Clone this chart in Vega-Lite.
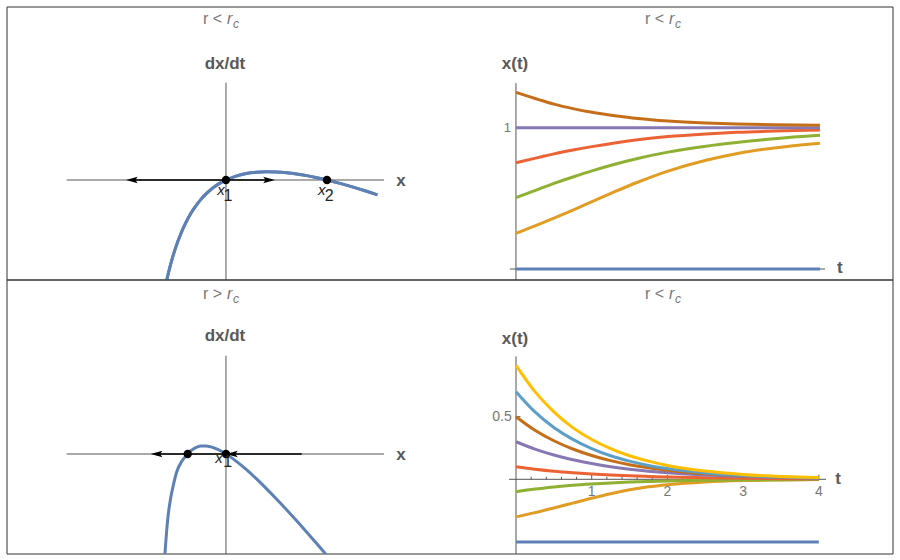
{
"$schema": "https://vega.github.io/schema/vega-lite/v6.json",
"background": "white",
"padding": {"left": 6, "top": 6, "right": 0, "bottom": 0},
"config": {"view": {"stroke": null}, "font": "Liberation Sans", "axis": {"disable": true}, "concat": {"spacing": 0}},
"datasets": {
"tl_curve": [{"x":-0.61,"dxdt":-7.42},{"x":-0.584,"dxdt":-6.6},{"x":-0.55,"dxdt":-5.68},{"x":-0.5,"dxdt":-4.54},{"x":-0.45,"dxdt":-3.63},{"x":-0.4,"dxdt":-2.88},{"x":-0.35,"dxdt":-2.25},{"x":-0.3,"dxdt":-1.74},{"x":-0.25,"dxdt":-1.31},{"x":-0.2,"dxdt":-0.944},{"x":-0.15,"dxdt":-0.641},{"x":-0.1,"dxdt":-0.388},{"x":-0.05,"dxdt":-0.176},{"x":0,"dxdt":0},{"x":0.1,"dxdt":0.262},{"x":0.2,"dxdt":0.429},{"x":0.3,"dxdt":0.522},{"x":0.4,"dxdt":0.555},{"x":0.5,"dxdt":0.541},{"x":0.6,"dxdt":0.488},{"x":0.7,"dxdt":0.403},{"x":0.8,"dxdt":0.29},{"x":0.9,"dxdt":0.155},{"x":1.0,"dxdt":0},{"x":1.1,"dxdt":-0.172},{"x":1.2,"dxdt":-0.359},{"x":1.3,"dxdt":-0.558},{"x":1.4,"dxdt":-0.768},{"x":1.5,"dxdt":-0.989}],
"tl_pts": [{"x":0,"dxdt":0},{"x":1,"dxdt":0}],
"bl_curve": [{"x":-0.608,"dxdt":-7.0},{"x":-0.601,"dxdt":-6.35},{"x":-0.587,"dxdt":-5.1},{"x":-0.571,"dxdt":-4.0},{"x":-0.548,"dxdt":-2.95},{"x":-0.522,"dxdt":-2.1},{"x":-0.488,"dxdt":-1.2},{"x":-0.439,"dxdt":-0.5},{"x":-0.379,"dxdt":0},{"x":-0.35,"dxdt":0.206},{"x":-0.3,"dxdt":0.43},{"x":-0.25,"dxdt":0.531},{"x":-0.2,"dxdt":0.538},{"x":-0.15,"dxdt":0.476},{"x":-0.1,"dxdt":0.358},{"x":-0.05,"dxdt":0.197},{"x":0,"dxdt":0},{"x":0.05,"dxdt":-0.226},{"x":0.1,"dxdt":-0.475},{"x":0.2,"dxdt":-1.032},{"x":0.3,"dxdt":-1.647},{"x":0.4,"dxdt":-2.306},{"x":0.5,"dxdt":-2.999},{"x":0.6,"dxdt":-3.718},{"x":0.7,"dxdt":-4.458},{"x":0.8,"dxdt":-5.215},{"x":0.9,"dxdt":-5.985},{"x":1.0,"dxdt":-6.768}],
"bl_pts": [{"x":-0.379,"dxdt":0},{"x":0,"dxdt":0}],
"tr_lines": [
{"s":"s1","t":0,"v":0},{"s":"s1","t":4,"v":0},
{"s":"s2","t":0,"v":0.252},{"s":"s2","t":0.3,"v":0.316},{"s":"s2","t":0.5,"v":0.36},{"s":"s2","t":0.75,"v":0.417},{"s":"s2","t":1,"v":0.476},{"s":"s2","t":1.3,"v":0.547},{"s":"s2","t":1.6,"v":0.614},{"s":"s2","t":2,"v":0.693},{"s":"s2","t":2.5,"v":0.77},{"s":"s2","t":2.9,"v":0.816},{"s":"s2","t":3.4,"v":0.857},{"s":"s2","t":4,"v":0.89},
{"s":"s3","t":0,"v":0.505},{"s":"s3","t":0.3,"v":0.565},{"s":"s3","t":0.5,"v":0.606},{"s":"s3","t":0.75,"v":0.651},{"s":"s3","t":1,"v":0.694},{"s":"s3","t":1.3,"v":0.741},{"s":"s3","t":1.6,"v":0.782},{"s":"s3","t":2,"v":0.827},{"s":"s3","t":2.5,"v":0.869},{"s":"s3","t":2.9,"v":0.895},{"s":"s3","t":3.4,"v":0.922},{"s":"s3","t":4,"v":0.946},
{"s":"s4","t":0,"v":0.752},{"s":"s4","t":0.3,"v":0.79},{"s":"s4","t":0.5,"v":0.815},{"s":"s4","t":0.75,"v":0.842},{"s":"s4","t":1,"v":0.866},{"s":"s4","t":1.3,"v":0.892},{"s":"s4","t":1.6,"v":0.914},{"s":"s4","t":2,"v":0.937},{"s":"s4","t":2.5,"v":0.956},{"s":"s4","t":2.9,"v":0.967},{"s":"s4","t":3.4,"v":0.976},{"s":"s4","t":4,"v":0.983},
{"s":"s5","t":0,"v":1},{"s":"s5","t":4,"v":1},
{"s":"s6","t":0,"v":1.25},{"s":"s6","t":0.3,"v":1.199},{"s":"s6","t":0.5,"v":1.167},{"s":"s6","t":0.75,"v":1.135},{"s":"s6","t":1,"v":1.109},{"s":"s6","t":1.3,"v":1.085},{"s":"s6","t":1.6,"v":1.065},{"s":"s6","t":2,"v":1.047},{"s":"s6","t":2.5,"v":1.033},{"s":"s6","t":2.9,"v":1.026},{"s":"s6","t":3.4,"v":1.021},{"s":"s6","t":4,"v":1.017}
],
"br_lines": [
{"s":"s1","t":0,"v":-0.5},{"s":"s1","t":4,"v":-0.5},
{"s":"s2","t":0,"v":-0.3},{"s":"s2","t":0.25,"v":-0.266},{"s":"s2","t":0.5,"v":-0.229},{"s":"s2","t":0.75,"v":-0.19},{"s":"s2","t":1,"v":-0.151},{"s":"s2","t":1.25,"v":-0.115},{"s":"s2","t":1.5,"v":-0.084},{"s":"s2","t":1.75,"v":-0.06},{"s":"s2","t":2,"v":-0.043},{"s":"s2","t":2.5,"v":-0.021},{"s":"s2","t":3,"v":-0.01},{"s":"s2","t":3.5,"v":-0.005},{"s":"s2","t":4,"v":-0.002},
{"s":"s3","t":0,"v":-0.1},{"s":"s3","t":0.25,"v":-0.078},{"s":"s3","t":0.5,"v":-0.061},{"s":"s3","t":0.75,"v":-0.047},{"s":"s3","t":1,"v":-0.037},{"s":"s3","t":1.25,"v":-0.029},{"s":"s3","t":1.5,"v":-0.022},{"s":"s3","t":1.75,"v":-0.017},{"s":"s3","t":2,"v":-0.014},{"s":"s3","t":2.5,"v":-0.008},{"s":"s3","t":3,"v":-0.005},{"s":"s3","t":3.5,"v":-0.003},{"s":"s3","t":4,"v":-0.002},
{"s":"s4","t":0,"v":0.1},{"s":"s4","t":0.25,"v":0.081},{"s":"s4","t":0.5,"v":0.065},{"s":"s4","t":0.75,"v":0.053},{"s":"s4","t":1,"v":0.043},{"s":"s4","t":1.25,"v":0.035},{"s":"s4","t":1.5,"v":0.028},{"s":"s4","t":1.75,"v":0.023},{"s":"s4","t":2,"v":0.018},{"s":"s4","t":2.5,"v":0.012},{"s":"s4","t":3,"v":0.008},{"s":"s4","t":3.5,"v":0.005},{"s":"s4","t":4,"v":0.003},
{"s":"s5","t":0,"v":0.3},{"s":"s5","t":0.25,"v":0.241},{"s":"s5","t":0.5,"v":0.194},{"s":"s5","t":0.75,"v":0.156},{"s":"s5","t":1,"v":0.126},{"s":"s5","t":1.25,"v":0.101},{"s":"s5","t":1.5,"v":0.081},{"s":"s5","t":1.75,"v":0.065},{"s":"s5","t":2,"v":0.053},{"s":"s5","t":2.5,"v":0.034},{"s":"s5","t":3,"v":0.022},{"s":"s5","t":3.5,"v":0.014},{"s":"s5","t":4,"v":0.009},
{"s":"s6","t":0,"v":0.5},{"s":"s6","t":0.25,"v":0.392},{"s":"s6","t":0.5,"v":0.308},{"s":"s6","t":0.75,"v":0.242},{"s":"s6","t":1,"v":0.19},{"s":"s6","t":1.25,"v":0.149},{"s":"s6","t":1.5,"v":0.117},{"s":"s6","t":1.75,"v":0.092},{"s":"s6","t":2,"v":0.072},{"s":"s6","t":2.5,"v":0.044},{"s":"s6","t":3,"v":0.027},{"s":"s6","t":3.5,"v":0.017},{"s":"s6","t":4,"v":0.01},
{"s":"s7","t":0,"v":0.7},{"s":"s7","t":0.25,"v":0.538},{"s":"s7","t":0.5,"v":0.414},{"s":"s7","t":0.75,"v":0.319},{"s":"s7","t":1,"v":0.245},{"s":"s7","t":1.25,"v":0.188},{"s":"s7","t":1.5,"v":0.145},{"s":"s7","t":1.75,"v":0.111},{"s":"s7","t":2,"v":0.086},{"s":"s7","t":2.5,"v":0.051},{"s":"s7","t":3,"v":0.03},{"s":"s7","t":3.5,"v":0.018},{"s":"s7","t":4,"v":0.011},
{"s":"s8","t":0,"v":0.91},{"s":"s8","t":0.25,"v":0.7},{"s":"s8","t":0.5,"v":0.539},{"s":"s8","t":0.75,"v":0.413},{"s":"s8","t":1,"v":0.318},{"s":"s8","t":1.25,"v":0.245},{"s":"s8","t":1.5,"v":0.188},{"s":"s8","t":1.75,"v":0.145},{"s":"s8","t":2,"v":0.111},{"s":"s8","t":2.5,"v":0.066},{"s":"s8","t":3,"v":0.039},{"s":"s8","t":3.5,"v":0.023},{"s":"s8","t":4,"v":0.014}
],
"br_minor": [{"t":0.2},{"t":0.4},{"t":0.6},{"t":0.8},{"t":1.2},{"t":1.4},{"t":1.6},{"t":1.8},{"t":2.2},{"t":2.4},{"t":2.6},{"t":2.8},{"t":3.2},{"t":3.4},{"t":3.6},{"t":3.8}],
"br_major": [{"t":1,"label":"1"},{"t":2,"label":"2"},{"t":3,"label":"3"},{"t":4,"label":"4"}]
},
"columns": 2,
"spacing": 0,
"bounds": "flush",
"concat": [
{
"width": 443, "height": 273,
"data": {"values": [{}]},
"layer": [
{"data": {"name": "tl_curve"}, "mark": {"type": "line", "color": "#5E81B5", "strokeWidth": 3, "clip": true, "interpolate": "monotone"}, "encoding": {"x": {"field": "x", "type": "quantitative", "scale": {"domain": [-2.168, 2.218], "nice": false, "zero": false}}, "y": {"field": "dxdt", "type": "quantitative", "scale": {"domain": [-6.667, 11.533], "nice": false, "zero": false}}}},
{"mark": {"type": "rule", "color": "#333", "strokeWidth": 1}, "encoding": {"x": {"datum": -2.168, "type": "quantitative"}, "x2": {"datum": 2.218}, "y": {"datum": 11.533, "type": "quantitative"}}},
{"mark": {"type": "rule", "color": "#333", "strokeWidth": 1}, "encoding": {"x": {"datum": -2.168, "type": "quantitative"}, "x2": {"datum": 2.218}, "y": {"datum": -6.667, "type": "quantitative"}}},
{"mark": {"type": "rule", "color": "#333", "strokeWidth": 1}, "encoding": {"x": {"datum": -2.168, "type": "quantitative"}, "y": {"datum": -6.667, "type": "quantitative"}, "y2": {"datum": 11.533}}},
{"mark": {"type": "rule", "color": "#555", "strokeWidth": 1}, "encoding": {"x": {"datum": -1.577, "type": "quantitative"}, "x2": {"datum": 1.564}, "y": {"datum": 0, "type": "quantitative"}}},
{"mark": {"type": "rule", "color": "#555", "strokeWidth": 1}, "encoding": {"x": {"datum": 0, "type": "quantitative"}, "y": {"datum": -6.667, "type": "quantitative"}, "y2": {"datum": 6.487}}},
{"data": {"name": "tl_curve"}, "mark": {"type": "line", "color": "#5E81B5", "strokeWidth": 3, "clip": true, "interpolate": "monotone"}, "encoding": {"x": {"field": "x", "type": "quantitative"}, "y": {"field": "dxdt", "type": "quantitative"}}},
{"mark": {"type": "rule", "color": "black", "strokeWidth": 1.5}, "encoding": {"x": {"datum": -0.95, "type": "quantitative"}, "x2": {"datum": 0.45}, "y": {"datum": 0, "type": "quantitative"}}},
{"mark": {"type": "point", "shape": "M0,0L2,-0.55L1.6,0L2,0.55Z", "size": 137, "filled": true, "color": "black", "opacity": 1, "strokeWidth": 0}, "encoding": {"x": {"datum": -0.99, "type": "quantitative"}, "y": {"datum": 0, "type": "quantitative"}}},
{"mark": {"type": "point", "shape": "M0,0L-2,-0.55L-1.6,0L-2,0.55Z", "size": 137, "filled": true, "color": "black", "opacity": 1, "strokeWidth": 0}, "encoding": {"x": {"datum": 0.485, "type": "quantitative"}, "y": {"datum": 0, "type": "quantitative"}}},
{"data": {"name": "tl_pts"}, "mark": {"type": "circle", "size": 70, "color": "black", "opacity": 1}, "encoding": {"x": {"field": "x", "type": "quantitative"}, "y": {"field": "dxdt", "type": "quantitative"}}},
{"mark": {"type": "text", "text": "x", "fontStyle": "italic", "fontSize": 15, "color": "#222", "align": "center", "baseline": "middle"}, "encoding": {"x": {"datum": -0.0495, "type": "quantitative"}, "y": {"datum": -0.667, "type": "quantitative"}}},
{"mark": {"type": "text", "text": "1", "fontSize": 16, "color": "#222", "align": "center", "baseline": "middle"}, "encoding": {"x": {"datum": 0.0198, "type": "quantitative"}, "y": {"datum": -1.067, "type": "quantitative"}}},
{"mark": {"type": "text", "text": "x", "fontStyle": "italic", "fontSize": 15, "color": "#222", "align": "center", "baseline": "middle"}, "encoding": {"x": {"datum": 0.9475, "type": "quantitative"}, "y": {"datum": -0.667, "type": "quantitative"}}},
{"mark": {"type": "text", "text": "2", "fontSize": 16, "color": "#222", "align": "center", "baseline": "middle"}, "encoding": {"x": {"datum": 1.0228, "type": "quantitative"}, "y": {"datum": -1.067, "type": "quantitative"}}},
{"mark": {"type": "text", "text": "dx/dt", "fontSize": 17, "fontWeight": "bold", "color": "#595959", "align": "center", "baseline": "middle"}, "encoding": {"x": {"datum": -0.01, "type": "quantitative"}, "y": {"datum": 7.753, "type": "quantitative"}}},
{"mark": {"type": "text", "text": "x", "fontSize": 17, "fontWeight": "bold", "color": "#595959", "align": "center", "baseline": "middle"}, "encoding": {"x": {"datum": 1.733, "type": "quantitative"}, "y": {"datum": -0.067, "type": "quantitative"}}},
{"mark": {"type": "text", "text": "r <", "fontSize": 16, "color": "#777", "align": "left", "baseline": "middle", "dx": -19}, "encoding": {"x": {"datum": -0.0396, "type": "quantitative"}, "y": {"datum": 10.733, "type": "quantitative"}}},
{"mark": {"type": "text", "text": "r", "fontStyle": "italic", "fontSize": 16, "color": "#777", "align": "left", "baseline": "middle", "dx": 5}, "encoding": {"x": {"datum": -0.0396, "type": "quantitative"}, "y": {"datum": 10.733, "type": "quantitative"}}},
{"mark": {"type": "text", "text": "c", "fontStyle": "italic", "fontSize": 12, "color": "#777", "align": "left", "baseline": "middle", "dx": 11, "dy": 5}, "encoding": {"x": {"datum": -0.0396, "type": "quantitative"}, "y": {"datum": 10.733, "type": "quantitative"}}}
]
},
{
"width": 443, "height": 273,
"data": {"values": [{}]},
"layer": [
{"mark": {"type": "rule", "color": "#333", "strokeWidth": 1}, "encoding": {"x": {"datum": -0.868, "type": "quantitative", "scale": {"domain": [-0.868, 4.961], "nice": false, "zero": false}}, "x2": {"datum": 4.961}, "y": {"datum": 1.8542, "type": "quantitative", "scale": {"domain": [-0.0778, 1.8542], "nice": false, "zero": false}}}},
{"mark": {"type": "rule", "color": "#333", "strokeWidth": 1}, "encoding": {"x": {"datum": -0.868, "type": "quantitative"}, "x2": {"datum": 4.961}, "y": {"datum": -0.0778, "type": "quantitative"}}},
{"mark": {"type": "rule", "color": "#333", "strokeWidth": 1}, "encoding": {"x": {"datum": 4.961, "type": "quantitative"}, "y": {"datum": -0.0778, "type": "quantitative"}, "y2": {"datum": 1.8542}}},
{"mark": {"type": "rule", "color": "#555", "strokeWidth": 1}, "encoding": {"x": {"datum": -0.079, "type": "quantitative"}, "x2": {"datum": 4.066}, "y": {"datum": 0, "type": "quantitative"}}},
{"mark": {"type": "rule", "color": "#555", "strokeWidth": 1}, "encoding": {"x": {"datum": 0, "type": "quantitative"}, "y": {"datum": -0.0778, "type": "quantitative"}, "y2": {"datum": 1.316}}},
{"data": {"name": "tr_lines"}, "mark": {"type": "line", "strokeWidth": 3, "clip": true, "interpolate": "monotone"}, "encoding": {"x": {"field": "t", "type": "quantitative"}, "y": {"field": "v", "type": "quantitative"}, "color": {"field": "s", "type": "nominal", "scale": {"domain": ["s1","s2","s3","s4","s5","s6","s7","s8"], "range": ["#5E81B5","#E19C24","#8FB032","#EB6235","#8778B3","#C56E1A","#5D9EC7","#FFBF00"]}, "legend": null}}},
{"mark": {"type": "text", "text": "1", "fontSize": 13, "color": "#777", "align": "right", "baseline": "middle"}, "encoding": {"x": {"datum": -0.0658, "type": "quantitative"}, "y": {"datum": 1, "type": "quantitative"}}},
{"mark": {"type": "text", "text": "x(t)", "fontSize": 17, "fontWeight": "bold", "color": "#595959", "align": "center", "baseline": "middle"}, "encoding": {"x": {"datum": -0.013, "type": "quantitative"}, "y": {"datum": 1.449, "type": "quantitative"}}},
{"mark": {"type": "text", "text": "t", "fontSize": 17, "fontWeight": "bold", "color": "#595959", "align": "center", "baseline": "middle"}, "encoding": {"x": {"datum": 4.263, "type": "quantitative"}, "y": {"datum": 0.0092, "type": "quantitative"}}},
{"mark": {"type": "text", "text": "r <", "fontSize": 16, "color": "#777", "align": "left", "baseline": "middle", "dx": -19}, "encoding": {"x": {"datum": 1.947, "type": "quantitative"}, "y": {"datum": 1.769, "type": "quantitative"}}},
{"mark": {"type": "text", "text": "r", "fontStyle": "italic", "fontSize": 16, "color": "#777", "align": "left", "baseline": "middle", "dx": 5}, "encoding": {"x": {"datum": 1.947, "type": "quantitative"}, "y": {"datum": 1.769, "type": "quantitative"}}},
{"mark": {"type": "text", "text": "c", "fontStyle": "italic", "fontSize": 12, "color": "#777", "align": "left", "baseline": "middle", "dx": 11, "dy": 5}, "encoding": {"x": {"datum": 1.947, "type": "quantitative"}, "y": {"datum": 1.769, "type": "quantitative"}}}
]
},
{
"width": 443, "height": 274,
"data": {"values": [{}]},
"layer": [
{"mark": {"type": "rule", "color": "#333", "strokeWidth": 1}, "encoding": {"x": {"datum": -2.168, "type": "quantitative", "scale": {"domain": [-2.168, 2.218], "nice": false, "zero": false}}, "x2": {"datum": 2.218}, "y": {"datum": 11.6, "type": "quantitative", "scale": {"domain": [-6.667, 11.6], "nice": false, "zero": false}}}},
{"mark": {"type": "rule", "color": "#333", "strokeWidth": 1}, "encoding": {"x": {"datum": -2.168, "type": "quantitative"}, "x2": {"datum": 2.218}, "y": {"datum": -6.667, "type": "quantitative"}}},
{"mark": {"type": "rule", "color": "#333", "strokeWidth": 1}, "encoding": {"x": {"datum": -2.168, "type": "quantitative"}, "y": {"datum": -6.667, "type": "quantitative"}, "y2": {"datum": 11.6}}},
{"mark": {"type": "rule", "color": "#555", "strokeWidth": 1}, "encoding": {"x": {"datum": -1.577, "type": "quantitative"}, "x2": {"datum": 1.564}, "y": {"datum": 0, "type": "quantitative"}}},
{"mark": {"type": "rule", "color": "#555", "strokeWidth": 1}, "encoding": {"x": {"datum": 0, "type": "quantitative"}, "y": {"datum": -6.667, "type": "quantitative"}, "y2": {"datum": 6.553}}},
{"data": {"name": "bl_curve"}, "mark": {"type": "line", "color": "#5E81B5", "strokeWidth": 3, "clip": true, "interpolate": "monotone"}, "encoding": {"x": {"field": "x", "type": "quantitative"}, "y": {"field": "dxdt", "type": "quantitative"}}},
{"mark": {"type": "rule", "color": "black", "strokeWidth": 1.5}, "encoding": {"x": {"datum": -0.71, "type": "quantitative"}, "x2": {"datum": 0.75}, "y": {"datum": 0, "type": "quantitative"}}},
{"mark": {"type": "point", "shape": "M0,0L2,-0.55L1.6,0L2,0.55Z", "size": 137, "filled": true, "color": "black", "opacity": 1, "strokeWidth": 0}, "encoding": {"x": {"datum": -0.745, "type": "quantitative"}, "y": {"datum": 0, "type": "quantitative"}}},
{"mark": {"type": "point", "shape": "M0,0L2,-0.55L1.6,0L2,0.55Z", "size": 137, "filled": true, "color": "black", "opacity": 1, "strokeWidth": 0}, "encoding": {"x": {"datum": 0.0, "type": "quantitative"}, "y": {"datum": 0, "type": "quantitative"}}},
{"data": {"name": "bl_pts"}, "mark": {"type": "circle", "size": 70, "color": "black", "opacity": 1}, "encoding": {"x": {"field": "x", "type": "quantitative"}, "y": {"field": "dxdt", "type": "quantitative"}}},
{"mark": {"type": "text", "text": "x", "fontStyle": "italic", "fontSize": 15, "color": "#222", "align": "center", "baseline": "middle"}, "encoding": {"x": {"datum": -0.069, "type": "quantitative"}, "y": {"datum": -0.267, "type": "quantitative"}}},
{"mark": {"type": "text", "text": "1", "fontSize": 16, "color": "#222", "align": "center", "baseline": "middle"}, "encoding": {"x": {"datum": 0.0168, "type": "quantitative"}, "y": {"datum": -0.533, "type": "quantitative"}}},
{"mark": {"type": "text", "text": "dx/dt", "fontSize": 17, "fontWeight": "bold", "color": "#595959", "align": "center", "baseline": "middle"}, "encoding": {"x": {"datum": -0.01, "type": "quantitative"}, "y": {"datum": 7.887, "type": "quantitative"}}},
{"mark": {"type": "text", "text": "x", "fontSize": 17, "fontWeight": "bold", "color": "#595959", "align": "center", "baseline": "middle"}, "encoding": {"x": {"datum": 1.733, "type": "quantitative"}, "y": {"datum": -0.047, "type": "quantitative"}}},
{"mark": {"type": "text", "text": "r >", "fontSize": 16, "color": "#777", "align": "left", "baseline": "middle", "dx": -19}, "encoding": {"x": {"datum": -0.0396, "type": "quantitative"}, "y": {"datum": 10.667, "type": "quantitative"}}},
{"mark": {"type": "text", "text": "r", "fontStyle": "italic", "fontSize": 16, "color": "#777", "align": "left", "baseline": "middle", "dx": 5}, "encoding": {"x": {"datum": -0.0396, "type": "quantitative"}, "y": {"datum": 10.667, "type": "quantitative"}}},
{"mark": {"type": "text", "text": "c", "fontStyle": "italic", "fontSize": 12, "color": "#777", "align": "left", "baseline": "middle", "dx": 11, "dy": 5}, "encoding": {"x": {"datum": -0.0396, "type": "quantitative"}, "y": {"datum": 10.667, "type": "quantitative"}}}
]
},
{
"width": 443, "height": 274,
"data": {"values": [{}]},
"layer": [
{"mark": {"type": "rule", "color": "#333", "strokeWidth": 1}, "encoding": {"x": {"datum": -0.872, "type": "quantitative", "scale": {"domain": [-0.872, 4.98], "nice": false, "zero": false}}, "x2": {"datum": 4.98}, "y": {"datum": 1.5919, "type": "quantitative", "scale": {"domain": [-0.5966, 1.5919], "nice": false, "zero": false}}}},
{"mark": {"type": "rule", "color": "#333", "strokeWidth": 1}, "encoding": {"x": {"datum": -0.872, "type": "quantitative"}, "x2": {"datum": 4.98}, "y": {"datum": -0.5966, "type": "quantitative"}}},
{"mark": {"type": "rule", "color": "#333", "strokeWidth": 1}, "encoding": {"x": {"datum": 4.98, "type": "quantitative"}, "y": {"datum": -0.5966, "type": "quantitative"}, "y2": {"datum": 1.5919}}},
{"mark": {"type": "rule", "color": "#555", "strokeWidth": 1}, "encoding": {"x": {"datum": -0.092, "type": "quantitative"}, "x2": {"datum": 4.095}, "y": {"datum": 0, "type": "quantitative"}}},
{"mark": {"type": "rule", "color": "#555", "strokeWidth": 1}, "encoding": {"x": {"datum": 0, "type": "quantitative"}, "y": {"datum": -0.5966, "type": "quantitative"}, "y2": {"datum": 0.982}}},
{"data": {"name": "br_minor"}, "mark": {"type": "rule", "color": "#555", "strokeWidth": 1}, "encoding": {"x": {"field": "t", "type": "quantitative"}, "y": {"datum": 0, "type": "quantitative"}, "y2": {"datum": 0.02}}},
{"data": {"name": "br_major"}, "mark": {"type": "rule", "color": "#555", "strokeWidth": 1}, "encoding": {"x": {"field": "t", "type": "quantitative"}, "y": {"datum": 0, "type": "quantitative"}, "y2": {"datum": 0.036}}},
{"mark": {"type": "rule", "color": "#555", "strokeWidth": 1}, "encoding": {"x": {"datum": 0, "type": "quantitative"}, "x2": {"datum": 0.059}, "y": {"datum": 0.5, "type": "quantitative"}}},
{"data": {"name": "br_lines"}, "mark": {"type": "line", "strokeWidth": 3, "clip": true, "interpolate": "monotone"}, "encoding": {"x": {"field": "t", "type": "quantitative"}, "y": {"field": "v", "type": "quantitative"}, "color": {"field": "s", "type": "nominal", "scale": {"domain": ["s1","s2","s3","s4","s5","s6","s7","s8"], "range": ["#5E81B5","#E19C24","#8FB032","#EB6235","#8778B3","#C56E1A","#5D9EC7","#FFBF00"]}, "legend": null}}},
{"data": {"name": "br_major"}, "mark": {"type": "text", "fontSize": 14, "color": "#777", "align": "center", "baseline": "middle"}, "encoding": {"x": {"field": "t", "type": "quantitative"}, "y": {"datum": -0.1038, "type": "quantitative"}, "text": {"field": "label", "type": "nominal"}}},
{"mark": {"type": "text", "text": "0.5", "fontSize": 14, "color": "#777", "align": "right", "baseline": "middle"}, "encoding": {"x": {"datum": -0.0568, "type": "quantitative"}, "y": {"datum": 0.5, "type": "quantitative"}}},
{"mark": {"type": "text", "text": "x(t)", "fontSize": 17, "fontWeight": "bold", "color": "#595959", "align": "center", "baseline": "middle"}, "encoding": {"x": {"datum": -0.013, "type": "quantitative"}, "y": {"datum": 1.1206, "type": "quantitative"}}},
{"mark": {"type": "text", "text": "t", "fontSize": 17, "fontWeight": "bold", "color": "#595959", "align": "center", "baseline": "middle"}, "encoding": {"x": {"datum": 4.254, "type": "quantitative"}, "y": {"datum": 0.0024, "type": "quantitative"}}},
{"mark": {"type": "text", "text": "r <", "fontSize": 16, "color": "#777", "align": "left", "baseline": "middle", "dx": -19}, "encoding": {"x": {"datum": 1.955, "type": "quantitative"}, "y": {"datum": 1.48, "type": "quantitative"}}},
{"mark": {"type": "text", "text": "r", "fontStyle": "italic", "fontSize": 16, "color": "#777", "align": "left", "baseline": "middle", "dx": 5}, "encoding": {"x": {"datum": 1.955, "type": "quantitative"}, "y": {"datum": 1.48, "type": "quantitative"}}},
{"mark": {"type": "text", "text": "c", "fontStyle": "italic", "fontSize": 12, "color": "#777", "align": "left", "baseline": "middle", "dx": 11, "dy": 5}, "encoding": {"x": {"datum": 1.955, "type": "quantitative"}, "y": {"datum": 1.48, "type": "quantitative"}}}
]
}
]
}
